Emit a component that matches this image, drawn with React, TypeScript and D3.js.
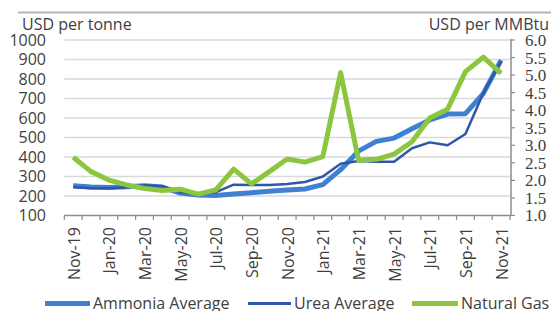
import React from 'react';
import * as d3 from 'd3';

const months = [
  'Nov-19', 'Dec-19', 'Jan-20', 'Feb-20', 'Mar-20', 'Apr-20', 'May-20', 'Jun-20', 'Jul-20',
  'Aug-20', 'Sep-20', 'Oct-20', 'Nov-20', 'Dec-20', 'Jan-21', 'Feb-21', 'Mar-21', 'Apr-21',
  'May-21', 'Jun-21', 'Jul-21', 'Aug-21', 'Sep-21', 'Oct-21', 'Nov-21',
];
// USD per tonne
const ammonia = [252, 246, 244, 247, 252, 246, 215, 205, 203, 210, 217, 224, 231, 236, 258, 335, 430, 480, 497, 545, 590, 620, 622, 725, 897];
const urea = [245, 240, 240, 245, 255, 250, 220, 208, 220, 258, 256, 256, 262, 272, 300, 365, 380, 376, 376, 445, 475, 460, 518, 727, 890];
// USD per MMBtu
const gas = [2.66, 2.25, 2.01, 1.87, 1.77, 1.71, 1.75, 1.61, 1.73, 2.32, 1.9, 2.25, 2.61, 2.52, 2.68, 5.07, 2.58, 2.6, 2.75, 3.1, 3.78, 4.03, 5.1, 5.51, 5.05];
const leftTicks = [100, 200, 300, 400, 500, 600, 700, 800, 900, 1000];
const rightTicks = [1, 1.5, 2, 2.5, 3, 3.5, 4, 4.5, 5, 5.5, 6];

const sans = '"Open Sans", sans-serif';
const txt = '#404040';

const App = () => {
  const x = d3.scaleBand().domain(months).range([64.3, 510]).padding(0);
  const yL = d3.scaleLinear().domain([100, 1000]).range([215.5, 40]);
  const yR = d3.scaleLinear().domain([1, 6]).range([215.5, 40]);
  const cx = (m: string) => (x(m) as number) + x.bandwidth() / 2;

  const lineL = d3.line<number>().x((d, i) => cx(months[i])).y(d => yL(d));
  const lineR = d3.line<number>().x((d, i) => cx(months[i])).y(d => yR(d));

  const edges = months.map(m => x(m) as number).concat([510]);

  const legend = [
    { label: 'Ammonia Average', color: '#3f80d0', w: 5, x0: 45, x1: 90, tx: 93 },
    { label: 'Urea Average', color: '#2f56a8', w: 3, x0: 248, x1: 291, tx: 294 },
    { label: 'Natural Gas', color: '#8cc63f', w: 5, x0: 412, x1: 458, tx: 461 },
  ];

  return (
    <svg width={551} height={311} style={{ position: 'absolute', left: 0, top: 0, background: '#fff' }}>
      <line x1={18} x2={551} y1={12.5} y2={12.5} stroke="#b4b4b4" strokeWidth={2} />
      <text x={22} y={29.5} fontFamily={sans} fontSize={16} fill={txt}>USD per tonne</text>
      <text x={549} y={29.5} textAnchor="end" fontFamily={sans} fontSize={16} fill={txt}>USD per MMBtu</text>

      {leftTicks.slice(1).map(t => (
        <line key={t} x1={64.3} x2={510} y1={yL(t)} y2={yL(t)} stroke="#d9d9d9" strokeWidth={1.5} />
      ))}
      {leftTicks.map(t => (
        <text key={t} x={46} y={yL(t)} dy="0.35em" textAnchor="end" fontFamily={sans} fontSize={16} fill={txt}>{t}</text>
      ))}

      {/* x axis */}
      <line x1={64.3} x2={511} y1={215.5} y2={215.5} stroke="#8c8c8c" strokeWidth={1.5} />
      {edges.map((e, i) => (
        <line key={i} x1={e} x2={e} y1={215.5} y2={220} stroke="#8c8c8c" strokeWidth={1.2} />
      ))}
      {months.map((m, i) => i % 2 === 0 ? (
        <text key={m} transform={`translate(${cx(m) + 1},227) rotate(-90)`} dy="0.35em" textAnchor="end"
          fontFamily={sans} fontSize={16} fill={txt}>{m}</text>
      ) : null)}

      {/* right axis */}
      <line x1={511} x2={511} y1={39} y2={216} stroke="#8c8c8c" strokeWidth={1.5} />
      {rightTicks.map(t => (
        <g key={t}>
          <line x1={511} x2={515} y1={yR(t)} y2={yR(t)} stroke="#8c8c8c" strokeWidth={1.2} />
          <text x={525} y={yR(t)} dy="0.35em" fontFamily='"Liberation Serif", serif' fontSize={17} fill={txt}>{t.toFixed(1)}</text>
        </g>
      ))}

      <path d={lineL(ammonia) || ''} fill="none" stroke="#3f80d0" strokeWidth={5} strokeLinejoin="round" />
      <path d={lineL(urea) || ''} fill="none" stroke="#2f56a8" strokeWidth={2.5} strokeLinejoin="round" />
      <path d={lineR(gas) || ''} fill="none" stroke="#8cc63f" strokeWidth={5} strokeLinejoin="round" />

      {legend.map(l => (
        <g key={l.label}>
          <line x1={l.x0} x2={l.x1} y1={303.5} y2={303.5} stroke={l.color} strokeWidth={l.w} />
          <text x={l.tx} y={309} fontFamily={sans} fontSize={16} fill={txt}>{l.label}</text>
        </g>
      ))}
    </svg>
  );
};

export default App;
